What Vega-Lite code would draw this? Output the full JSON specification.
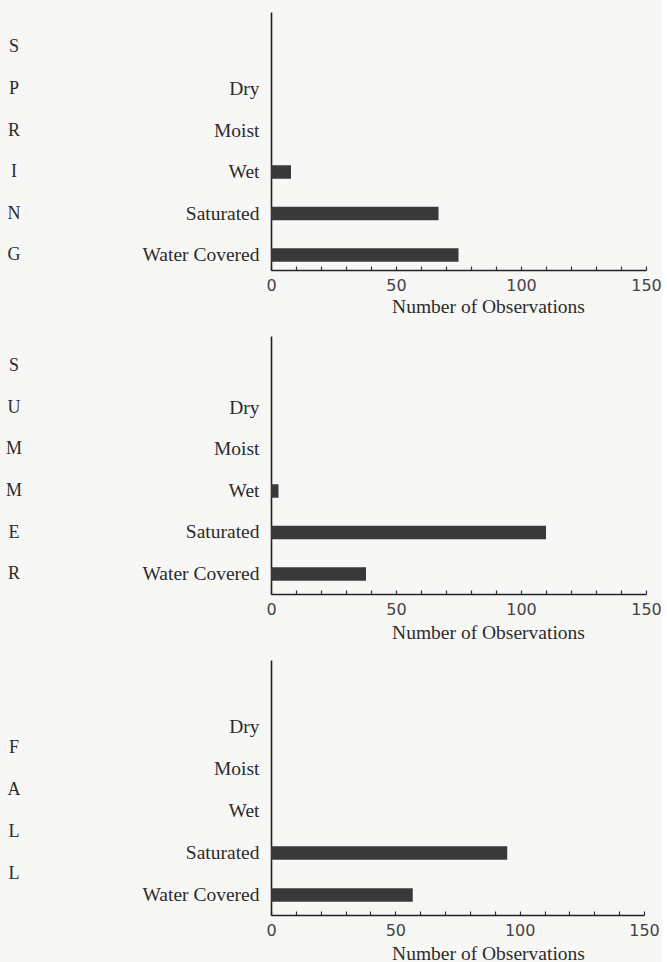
{
  "$schema": "https://vega.github.io/schema/vega-lite/v6.json",
  "background": "#f7f7f5",
  "padding": {"left": 0, "top": 12, "right": 0, "bottom": 0},
  "config": {
    "view": {"stroke": null},
    "font": "Liberation Serif",
    "axisX": {
      "labelFlush": false,
      "labelOverlap": false,
      "tickSize": -4,
      "tickColor": "#333",
      "tickWidth": 1.2,
      "domainColor": "#222",
      "domainWidth": 1.6,
      "grid": false,
      "labelFont": "DejaVu Sans",
      "labelFontSize": 16,
      "labelColor": "#444",
      "labelPadding": 11,
      "titleFont": "Liberation Serif",
      "titleFontSize": 19.5,
      "titleFontWeight": "normal",
      "titleColor": "#2b2b2b",
      "titleAlign": "center",
      "titleBaseline": "alphabetic",
      "titleX": 217,
      "titleY": 42
    },
    "axisY": {
      "title": null,
      "ticks": false,
      "domainColor": "#222",
      "domainWidth": 1.6,
      "grid": false,
      "labelFont": "Liberation Serif",
      "labelFontSize": 19.5,
      "labelColor": "#2b2b2b",
      "labelPadding": 12,
      "labelLimit": 0
    }
  },
  "datasets": {
    "obs": [
      {"season": "Spring", "condition": "Dry", "count": 0},
      {"season": "Spring", "condition": "Moist", "count": 0},
      {"season": "Spring", "condition": "Wet", "count": 8},
      {"season": "Spring", "condition": "Saturated", "count": 67},
      {"season": "Spring", "condition": "Water Covered", "count": 75},
      {"season": "Summer", "condition": "Dry", "count": 0},
      {"season": "Summer", "condition": "Moist", "count": 0},
      {"season": "Summer", "condition": "Wet", "count": 3},
      {"season": "Summer", "condition": "Saturated", "count": 110},
      {"season": "Summer", "condition": "Water Covered", "count": 38},
      {"season": "Fall", "condition": "Dry", "count": 0},
      {"season": "Fall", "condition": "Moist", "count": 0},
      {"season": "Fall", "condition": "Wet", "count": 0},
      {"season": "Fall", "condition": "Saturated", "count": 95},
      {"season": "Fall", "condition": "Water Covered", "count": 57}
    ],
    "letters": [
      {"season": "Spring", "letter": "S", "row": 0},
      {"season": "Spring", "letter": "P", "row": 1},
      {"season": "Spring", "letter": "R", "row": 2},
      {"season": "Spring", "letter": "I", "row": 3},
      {"season": "Spring", "letter": "N", "row": 4},
      {"season": "Spring", "letter": "G", "row": 5},
      {"season": "Summer", "letter": "S", "row": 0},
      {"season": "Summer", "letter": "U", "row": 1},
      {"season": "Summer", "letter": "M", "row": 2},
      {"season": "Summer", "letter": "M", "row": 3},
      {"season": "Summer", "letter": "E", "row": 4},
      {"season": "Summer", "letter": "R", "row": 5},
      {"season": "Fall", "letter": "F", "row": 1.5},
      {"season": "Fall", "letter": "A", "row": 2.5},
      {"season": "Fall", "letter": "L", "row": 3.5},
      {"season": "Fall", "letter": "L", "row": 4.5}
    ]
  },
  "columns": 2,
  "bounds": "flush",
  "align": {"row": "each", "column": "none"},
  "spacing": {"row": 66, "column": 243},
  "concat": [
    {
      "data": {"name": "letters"},
      "transform": [{"filter": "datum.season === 'Spring'"}],
      "width": 28,
      "height": 258,
      "mark": {"type": "text", "font": "Liberation Serif", "fontSize": 18, "color": "#2b2b2b"},
      "encoding": {
        "y": {"field": "row", "type": "quantitative", "scale": {"domain": [-0.8554, 5.3614], "reverse": true, "nice": false, "zero": false}, "axis": null},
        "text": {"field": "letter"}
      }
    },
    {
      "data": {"name": "obs"},
      "transform": [{"filter": "datum.season === 'Spring'"}],
      "width": 375,
      "height": 258,
      "mark": {"type": "bar", "color": "#393939"},
      "encoding": {
        "x": {"field": "count", "type": "quantitative", "scale": {"domain": [0, 150], "nice": false}, "axis": {"title": "Number of Observations", "values": [0, 10, 20, 30, 40, 50, 60, 70, 80, 90, 100, 110, 120, 130, 140, 150], "labelExpr": "datum.value % 50 === 0 ? datum.label : ''"}},
        "y": {"field": "condition", "type": "nominal", "sort": ["Dry", "Moist", "Wet", "Saturated", "Water Covered"], "scale": {"paddingInner": 0.6747, "paddingOuter": 0.9458, "align": 0.895}}
      }
    },
    {
      "data": {"name": "letters"},
      "transform": [{"filter": "datum.season === 'Summer'"}],
      "width": 28,
      "height": 258,
      "mark": {"type": "text", "font": "Liberation Serif", "fontSize": 18, "color": "#2b2b2b"},
      "encoding": {
        "y": {"field": "row", "type": "quantitative", "scale": {"domain": [-0.7349, 5.4819], "reverse": true, "nice": false, "zero": false}, "axis": null},
        "text": {"field": "letter"}
      }
    },
    {
      "data": {"name": "obs"},
      "transform": [{"filter": "datum.season === 'Summer'"}],
      "width": 375,
      "height": 258,
      "mark": {"type": "bar", "color": "#393939"},
      "encoding": {
        "x": {"field": "count", "type": "quantitative", "scale": {"domain": [0, 150], "nice": false}, "axis": {"title": "Number of Observations", "titleY": 44, "values": [0, 10, 20, 30, 40, 50, 60, 70, 80, 90, 100, 110, 120, 130, 140, 150], "labelExpr": "datum.value % 50 === 0 ? datum.label : ''"}},
        "y": {"field": "condition", "type": "nominal", "sort": ["Dry", "Moist", "Wet", "Saturated", "Water Covered"], "scale": {"paddingInner": 0.6747, "paddingOuter": 0.9458, "align": 0.8312}}
      }
    },
    {
      "data": {"name": "letters"},
      "transform": [{"filter": "datum.season === 'Fall'"}],
      "width": 28,
      "height": 255,
      "mark": {"type": "text", "font": "Liberation Serif", "fontSize": 18, "color": "#2b2b2b"},
      "encoding": {
        "y": {"field": "row", "type": "quantitative", "scale": {"domain": [-0.5952, 5.4762], "reverse": true, "nice": false, "zero": false}, "axis": null},
        "text": {"field": "letter"}
      }
    },
    {
      "data": {"name": "obs"},
      "transform": [{"filter": "datum.season === 'Fall'"}],
      "width": 373,
      "height": 255,
      "mark": {"type": "bar", "color": "#393939"},
      "encoding": {
        "x": {"field": "count", "type": "quantitative", "scale": {"domain": [0, 150], "nice": false}, "axis": {"title": "Number of Observations", "titleY": 44, "values": [0, 10, 20, 30, 40, 50, 60, 70, 80, 90, 100, 110, 120, 130, 140, 150], "labelExpr": "datum.value % 50 === 0 ? datum.label : ''"}},
        "y": {"field": "condition", "type": "nominal", "sort": ["Dry", "Moist", "Wet", "Saturated", "Water Covered"], "scale": {"paddingInner": 0.6786, "paddingOuter": 0.875, "align": 0.8197}}
      }
    }
  ]
}
